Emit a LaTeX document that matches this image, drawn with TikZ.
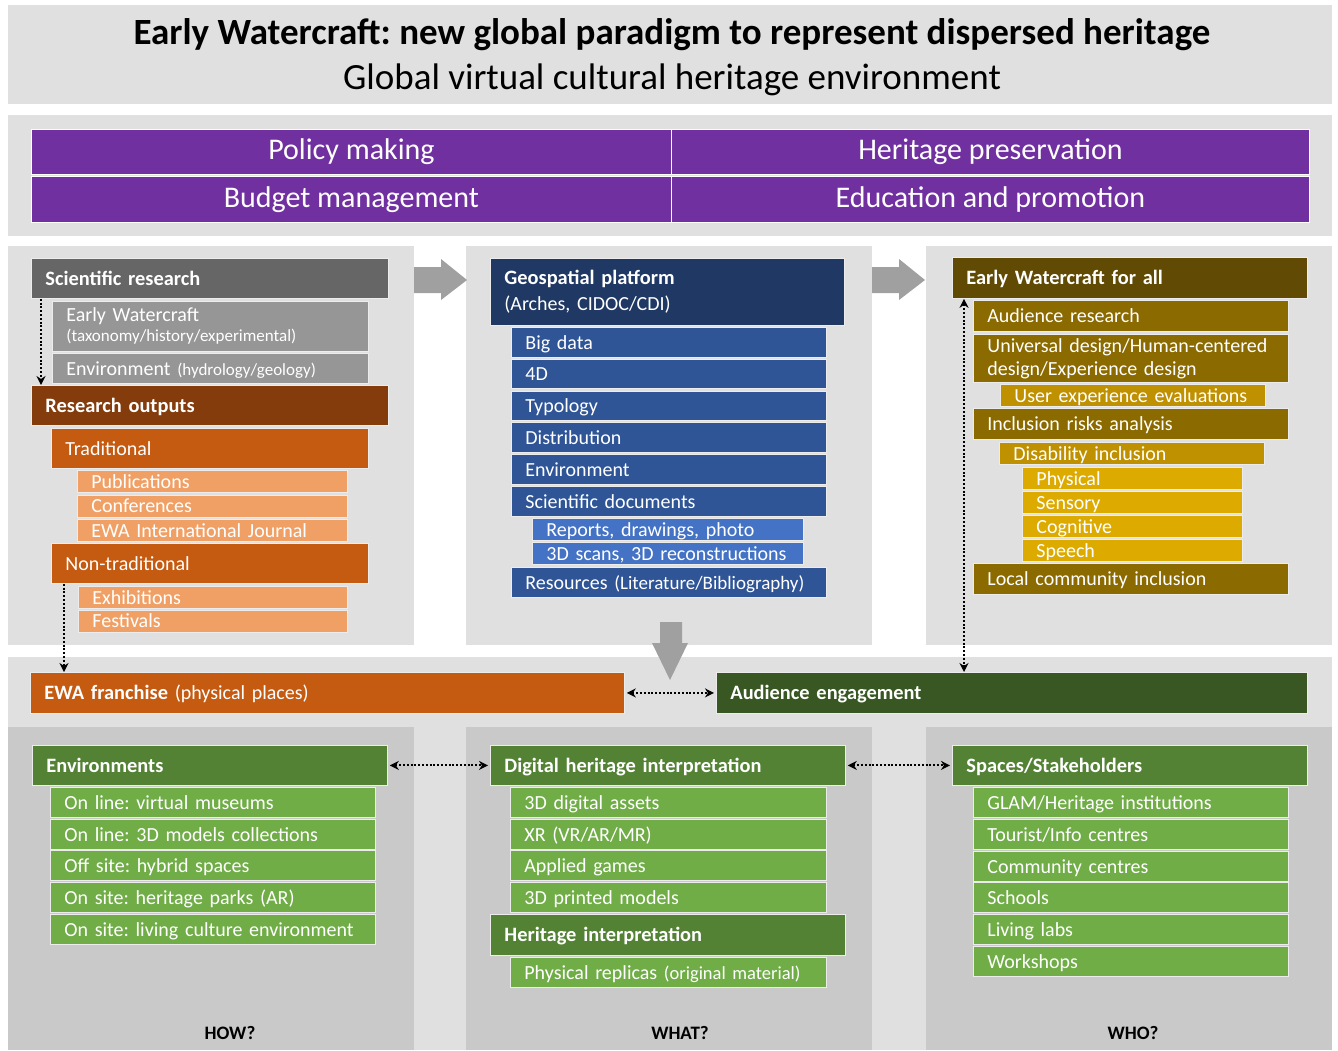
\documentclass[tikz,border=0pt]{standalone}
\usepackage{fontspec}
\setmainfont{Carlito}
\usetikzlibrary{arrows.meta}
\frenchspacing
\definecolor{band}{HTML}{E0E0E0}
\definecolor{panel}{HTML}{C9C9C9}
\definecolor{arrowgray}{HTML}{A0A0A0}
\definecolor{purple}{HTML}{7030A0}
\definecolor{sgray}{HTML}{666666}
\definecolor{lgray}{HTML}{969696}
\definecolor{rbrown}{HTML}{843C0C}
\definecolor{rorange}{HTML}{C55A11}
\definecolor{lorange}{HTML}{F1A065}
\definecolor{navy}{HTML}{203864}
\definecolor{geoblue}{HTML}{2F5597}
\definecolor{subblue}{HTML}{4472C4}
\definecolor{olive}{HTML}{604A04}
\definecolor{gold}{HTML}{8B6A00}
\definecolor{midgold}{HTML}{BF9000}
\definecolor{lgold}{HTML}{DDAA00}
\definecolor{dgreen}{HTML}{385723}
\definecolor{hgreen}{HTML}{548235}
\definecolor{igreen}{HTML}{70AD47}

\begin{document}
\begin{tikzpicture}[x=1pt, y=-1pt,
  bar/.style={anchor=north west, draw=white!85!gray, line width=0.8pt, inner xsep=14pt, inner ysep=0pt,
    text=white, align=left, text height=15pt, text depth=1pt, font=\fontsize{20}{23}\selectfont},
  head/.style={bar, font=\bfseries\fontsize{20.4}{23}\selectfont},
  twoline/.style={text height={}, text depth={}},
  policy/.style={anchor=north west, fill=purple, draw=white, line width=0.8pt, text=white,
    minimum height=45pt, minimum width=640pt, font=\fontsize{30}{32}\selectfont},
  link/.style={line width=2pt, dash pattern=on 2pt off 1.8pt, >={Stealth[length=9pt,width=9pt]}},
  question/.style={font=\bfseries\fontsize{19}{21}\selectfont}]
\useasboundingbox[fill=white] (0,0) rectangle (1338,1050);

\fill[band] (8,5) rectangle (1332,104);
\fill[band] (8,115) rectangle (1332,236);
\foreach \x in {8,466,926} {
 \fill[band] (\x,246) rectangle ++(406,399);
}
\fill[band] (8,657) rectangle (1332,1050);
\foreach \x in {8,466,926} {
 \fill[panel] (\x,727) rectangle ++(406,323);
}

\node[font=\bfseries\fontsize{37}{40}\selectfont] (title) at (672,35) {Early Watercraft: new global paradigm to represent dispersed heritage};
\node[font=\fontsize{37}{40}\selectfont] (subtitle) at (672,80) {Global virtual cultural heritage environment};

\node[policy] (policy) at (31,129) {Policy making};
\node[policy, minimum width=638pt] (preserve) at (671,129) {Heritage preservation};
\node[policy, minimum height=46pt] (budget) at (31,176) {Budget management};
\node[policy, minimum width=638pt, minimum height=46pt] (educate) at (671,176) {Education and promotion};

% gray block arrows
\foreach \x in {414,872} {
 \fill[arrowgray] (\x,267) -- ++(27,0) -- ++(0,-8) -- ++(26,21) -- ++(-26,20) -- ++(0,-7) -- ++(-27,0) -- cycle;
}
\fill[arrowgray] (660,622) -- (682,622) -- (682,643) -- (688,643) -- (670,680) -- (652,643) -- (660,643) -- cycle;

% how
\node[head, fill=sgray, text width=329pt, minimum height=40pt] (sci) at (31,258) {Scientific research};
\node[bar, twoline, fill=lgray, text width=288pt, minimum height=50pt, font=\fontsize{20}{20}\selectfont] (ewc) at (52,301) {Early Watercraft\\{\fontsize{17}{18}\selectfont(taxonomy/history/experimental)}};
\node[bar, fill=lgray, text width=288pt, minimum height=30pt] (envsci) at (52,353) {Environment {\fontsize{17}{18}\selectfont(hydrology/geology)}};
\node[head, fill=rbrown, text width=329pt, minimum height=40pt] (outputs) at (31,385) {Research outputs};
\node[bar, fill=rorange, text width=289pt, minimum height=40pt] (trad) at (51,428) {Traditional};
\foreach \t [count=\i] in {Publications, Conferences, EWA International Journal} {
 \node[bar, fill=lorange, text width=242pt, minimum height=22pt] (trad\i) at (77,{470+(\i-1)*24.5}) {\t};
}
\node[bar, fill=rorange, text width=289pt, minimum height=40pt] (nontrad) at (51,543) {Non-traditional};
\foreach \t [count=\i] in {Exhibitions, Festivals} {
 \node[bar, fill=lorange, text width=241pt, minimum height=22pt] (nontrad\i) at (78,{586+(\i-1)*23.5}) {\t};
}

% what
\node[bar, twoline, fill=navy, text width=326pt, minimum height=67pt, font=\fontsize{20}{26}\selectfont] (geo) at (490,258) {{\bfseries\fontsize{20.4}{26}\selectfont Geospatial platform}\\(Arches, CIDOC/CDI)};
\foreach \t [count=\i] in {Big data, 4D, Typology, Distribution, Environment, Scientific documents} {
 \node[bar, fill=geoblue, text width=287pt, minimum height=29.5pt] (geo\i) at (511,{327+(\i-1)*31.8}) {\t};
}
\node[bar, fill=subblue, text width=243pt, minimum height=22pt] (reports) at (532,518) {Reports, drawings, photo};
\node[bar, fill=subblue, text width=243pt, minimum height=22pt] (scans) at (532,542) {3D scans, 3D reconstructions};
\node[bar, fill=geoblue, text width=287pt, minimum height=29.5pt] (resources) at (511,567) {Resources {\fontsize{19}{20}\selectfont(Literature/Bibliography)}};

% who
\node[head, fill=olive, text width=327pt, minimum height=41pt] (ewall) at (952,257) {Early Watercraft for all};
\node[bar, fill=gold, text width=287pt, minimum height=31pt] (audres) at (973,300) {Audience research};
\node[bar, twoline, fill=gold, text width=287pt, minimum height=48pt] (udesign) at (973,334) {Universal design/Human-centered\\design/Experience design};
\node[bar, fill=midgold, text width=237pt, minimum height=22pt] (uxeval) at (1000,384) {User experience evaluations};
\node[bar, fill=gold, text width=287pt, minimum height=31pt] (risks) at (973,408) {Inclusion risks analysis};
\node[bar, fill=midgold, text width=237pt, minimum height=22pt] (disab) at (999,442) {Disability inclusion};
\foreach \t [count=\i] in {Physical, Sensory, Cognitive, Speech} {
 \node[bar, fill=lgold, text width=192pt, minimum height=22pt] (disab\i) at (1022,{467+(\i-1)*24}) {\t};
}
\node[bar, fill=gold, text width=287pt, minimum height=31pt] (local) at (973,563) {Local community inclusion};

% engagement
\node[bar, fill=rorange, text width=566pt, minimum height=41pt] (ewa) at (30,672) {{\bfseries\fontsize{20.4}{23}\selectfont EWA franchise} (physical places)};
\node[head, fill=dgreen, text width=563pt, minimum height=41pt] (aud) at (716,672) {Audience engagement};

\node[head, fill=hgreen, text width=327pt, minimum height=40pt] (envs) at (32,745) {Environments};
\foreach \t [count=\i] in {On line: virtual museums, On line: 3D models collections, Off site: hybrid spaces, On site: heritage parks (AR), On site: living culture environment} {
 \node[bar, fill=igreen, text width=297pt, minimum height=30pt] (envs\i) at (50,{787+(\i-1)*31.7}) {\t};
}
\node[head, fill=hgreen, text width=327pt, minimum height=40pt] (dhi) at (490,745) {Digital heritage interpretation};
\foreach \t [count=\i] in {3D digital assets, XR (VR/AR/MR), Applied games, 3D printed models} {
 \node[bar, fill=igreen, text width=288pt, minimum height=30pt] (dhi\i) at (510,{787+(\i-1)*31.7}) {\t};
}
\node[head, fill=hgreen, text width=327pt, minimum height=41pt] (hi) at (490,914) {Heritage interpretation};
\node[bar, fill=igreen, text width=288pt, minimum height=30pt] (replicas) at (510,957) {Physical replicas {\fontsize{18.5}{19}\selectfont(original material)}};
\node[head, fill=hgreen, text width=327pt, minimum height=40pt] (spaces) at (952,745) {Spaces/Stakeholders};
\foreach \t [count=\i] in {GLAM/Heritage institutions, Tourist/Info centres, Community centres, Schools, Living labs, Workshops} {
 \node[bar, fill=igreen, text width=287pt, minimum height=30pt] (spaces\i) at (973,{787+(\i-1)*31.8}) {\t};
}

\node[question] (how) at (230,1033) {HOW?};
\node[question] (what) at (680,1033) {WHAT?};
\node[question] (who) at (1133,1033) {WHO?};

% dotted links
\draw[link,->] ([xshift=10pt]sci.south west) -- ([xshift=10pt]sci.south west |- outputs.north);
\draw[link,->] ([xshift=13pt]nontrad.south west) -- ([xshift=13pt]nontrad.south west |- ewa.north);
\draw[link,<->] ([xshift=12pt]ewall.south west) -- ([xshift=12pt]ewall.south west |- aud.north);
\draw[link,<->,shorten <=2pt,shorten >=2pt] (ewa.east) -- (aud.west);
\draw[link,<->,shorten <=2pt,shorten >=2pt] (envs.east) -- (dhi.west);
\draw[link,<->,shorten <=2pt,shorten >=2pt] (dhi.east) -- (spaces.west);
\end{tikzpicture}
\end{document}
